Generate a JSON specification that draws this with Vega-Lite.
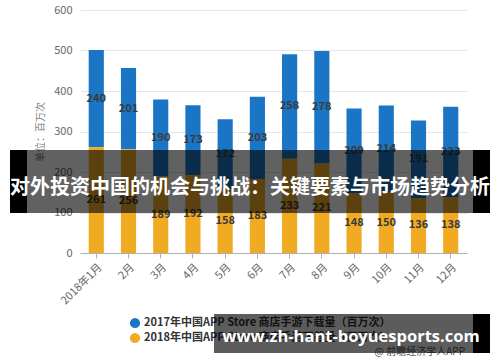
{
  "$schema": "https://vega.github.io/schema/vega-lite/v6.json",
  "width": 387,
  "height": 243,
  "autosize": "none",
  "padding": {"left": 80, "top": 10, "right": 33, "bottom": 109},
  "background": "white",
  "config": {
    "font": "Noto Sans CJK SC",
    "view": {"stroke": null}
  },
  "datasets": {
    "downloads": [
      {"month": "2018年1月", "series": "2017年中国APP Store 商店手游下载量（百万次）", "v": 240},
      {"month": "2月", "series": "2017年中国APP Store 商店手游下载量（百万次）", "v": 201},
      {"month": "3月", "series": "2017年中国APP Store 商店手游下载量（百万次）", "v": 190},
      {"month": "4月", "series": "2017年中国APP Store 商店手游下载量（百万次）", "v": 173},
      {"month": "5月", "series": "2017年中国APP Store 商店手游下载量（百万次）", "v": 172},
      {"month": "6月", "series": "2017年中国APP Store 商店手游下载量（百万次）", "v": 203},
      {"month": "7月", "series": "2017年中国APP Store 商店手游下载量（百万次）", "v": 258},
      {"month": "8月", "series": "2017年中国APP Store 商店手游下载量（百万次）", "v": 278},
      {"month": "9月", "series": "2017年中国APP Store 商店手游下载量（百万次）", "v": 209},
      {"month": "10月", "series": "2017年中国APP Store 商店手游下载量（百万次）", "v": 214},
      {"month": "11月", "series": "2017年中国APP Store 商店手游下载量（百万次）", "v": 191},
      {"month": "12月", "series": "2017年中国APP Store 商店手游下载量（百万次）", "v": 223},
      {"month": "2018年1月", "series": "2018年中国APP Store 商店手游下载量（百万次）", "v": 261},
      {"month": "2月", "series": "2018年中国APP Store 商店手游下载量（百万次）", "v": 256},
      {"month": "3月", "series": "2018年中国APP Store 商店手游下载量（百万次）", "v": 189},
      {"month": "4月", "series": "2018年中国APP Store 商店手游下载量（百万次）", "v": 192},
      {"month": "5月", "series": "2018年中国APP Store 商店手游下载量（百万次）", "v": 158},
      {"month": "6月", "series": "2018年中国APP Store 商店手游下载量（百万次）", "v": 183},
      {"month": "7月", "series": "2018年中国APP Store 商店手游下载量（百万次）", "v": 233},
      {"month": "8月", "series": "2018年中国APP Store 商店手游下载量（百万次）", "v": 221},
      {"month": "9月", "series": "2018年中国APP Store 商店手游下载量（百万次）", "v": 148},
      {"month": "10月", "series": "2018年中国APP Store 商店手游下载量（百万次）", "v": 150},
      {"month": "11月", "series": "2018年中国APP Store 商店手游下载量（百万次）", "v": 136},
      {"month": "12月", "series": "2018年中国APP Store 商店手游下载量（百万次）", "v": 138}
    ],
    "one": [{"k": 1}]
  },
  "resolve": {"scale": {"y": "independent"}},
  "layer": [
    {
      "data": {"name": "downloads"},
      "encoding": {
        "x": {
          "field": "month", "type": "nominal", "sort": null,
          "scale": {"paddingInner": 0.53, "paddingOuter": 0.27},
          "axis": {
            "title": null, "labelAngle": -45, "labelAlign": "right", "labelBaseline": "top",
            "labelColor": "#666666", "labelFontSize": 11, "labelPadding": 3,
            "domainColor": "#b0b0b0", "tickColor": "#b0b0b0", "tickSize": 5
          }
        },
        "y": {
          "field": "v", "type": "quantitative", "stack": "zero",
          "scale": {"domain": [0, 600]},
          "axis": {
            "title": "单位：百万次", "titleFontSize": 10, "titleColor": "#808080", "titleFontWeight": "normal",
            "titlePadding": 8,
            "values": [0, 100, 200, 300, 400, 500, 600],
            "labelColor": "#666666", "labelFontSize": 11, "labelPadding": 8,
            "ticks": false, "domain": false, "gridColor": "#e6e6e6"
          }
        },
        "order": {"field": "series", "sort": "descending"}
      },
      "layer": [
        {
          "mark": {"type": "bar"},
          "encoding": {
            "color": {
              "field": "series", "type": "nominal",
              "scale": {"range": ["#1a75c5", "#f0ab22"]},
              "legend": null
            }
          }
        },
        {
          "mark": {"type": "text", "fontSize": 11, "fontWeight": "bold", "fill": "#3a3a3a", "baseline": "middle"},
          "encoding": {
            "y": {"field": "v", "type": "quantitative", "stack": "zero", "bandPosition": 0.5},
            "text": {"field": "v", "type": "quantitative"}
          }
        }
      ]
    },
    {
      "data": {"name": "downloads"},
      "transform": [{"aggregate": [{"op": "count", "as": "n"}], "groupby": ["series"]}],
      "encoding": {
        "y": {"field": "series", "type": "nominal", "scale": {"range": [313, 328], "padding": 0}, "axis": null}
      },
      "layer": [
        {
          "mark": {"type": "point", "shape": "circle", "filled": true, "opacity": 1, "size": 105, "x": 55},
          "encoding": {
            "color": {"field": "series", "type": "nominal", "legend": null}
          }
        },
        {
          "mark": {"type": "text", "x": 64, "align": "left", "baseline": "middle", "fontSize": 11, "fontWeight": "bold", "fill": "#333333"},
          "encoding": {
            "text": {"field": "series", "type": "nominal"}
          }
        }
      ]
    },
    {
      "data": {"name": "one"},
      "layer": [
        {
          "mark": {"type": "rect", "x": -70, "x2": 410, "y": 140, "y2": 203, "fill": "#000000", "opacity": 0.62},
          "encoding": {}
        },
        {
          "mark": {"type": "rect", "x": -70, "x2": -53, "y": 140, "y2": 203, "fill": "#000000"},
          "encoding": {}
        },
        {
          "mark": {"type": "rect", "x": 393, "x2": 410, "y": 140, "y2": 203, "fill": "#000000"},
          "encoding": {}
        },
        {
          "mark": {"type": "text", "x": 170, "y": 178, "align": "center", "baseline": "middle", "fontSize": 20, "fontWeight": "bold", "fill": "white", "text": "对外投资中国的机会与挑战：关键要素与市场趋势分析"},
          "encoding": {}
        },
        {
          "mark": {"type": "text", "x": 385, "y": 342, "align": "right", "baseline": "middle", "fontSize": 10, "fill": "#555555", "text": "@ 前瞻经济学人APP"},
          "encoding": {}
        },
        {
          "mark": {"type": "rect", "x": 134, "x2": 410, "y": 304, "y2": 343, "fill": "#000000", "opacity": 0.64},
          "encoding": {}
        },
        {
          "mark": {"type": "rect", "x": 393, "x2": 410, "y": 304, "y2": 343, "fill": "#000000"},
          "encoding": {}
        },
        {
          "mark": {"type": "text", "x": 271, "y": 327, "align": "center", "baseline": "middle", "fontSize": 16.5, "fontWeight": "bold", "fill": "white", "font": "Open Sans", "text": "www.zh-hant-boyuesports.com"},
          "encoding": {}
        }
      ]
    }
  ]
}
